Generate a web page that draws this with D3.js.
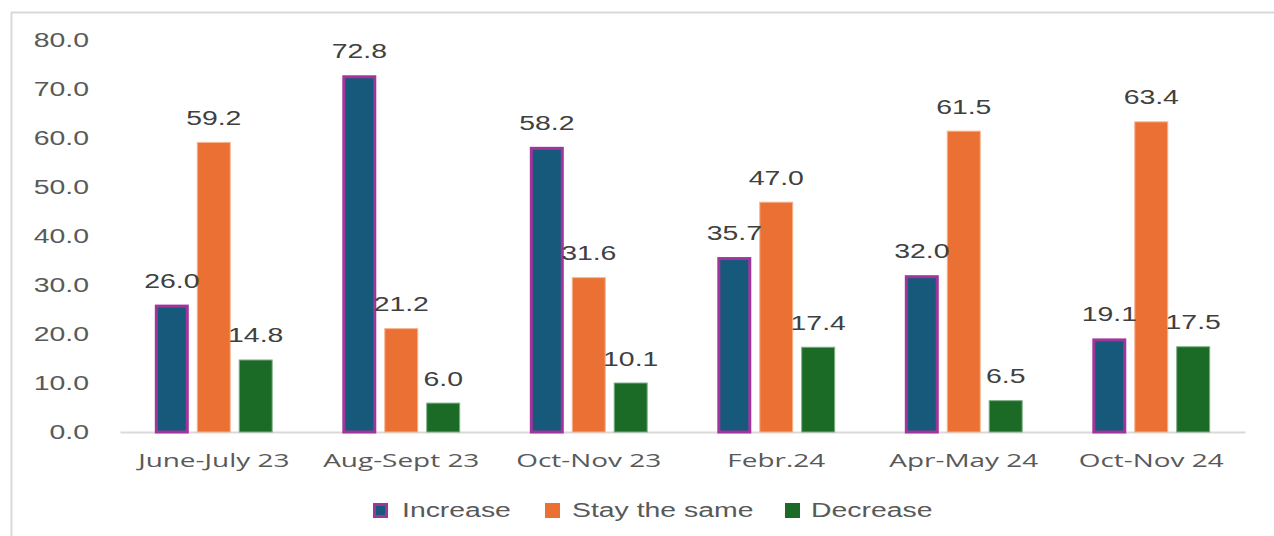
<!DOCTYPE html>
<html>
<head>
<meta charset="utf-8">
<script src="https://cdn.jsdelivr.net/npm/d3@7"></script>
<style>
  html, body { margin: 0; padding: 0; background: #ffffff; }
  svg { display: block; }
</style>
</head>
<body>
<svg id="chart" width="1274" height="536"></svg>
<script>
// Survey periods and the share of answers for each option (%)
const categories = ["June-July 23", "Aug-Sept 23", "Oct-Nov 23", "Febr.24", "Apr-May 24", "Oct-Nov 24"];
const seriesNames = ["Increase", "Stay the same", "Decrease"];
const increase = [26.0, 72.8, 58.2, 35.7, 32.0, 19.1];
const stayTheSame = [59.2, 21.2, 31.6, 47.0, 61.5, 63.4];
const decrease = [14.8, 6.0, 10.1, 17.4, 6.5, 17.5];
const yTicks = [0, 10, 20, 30, 40, 50, 60, 70, 80];

const seriesValues = [increase, stayTheSame, decrease];
const fills = ["#17597b", "#ea7133", "#1b6a25"];
const strokes = ["#a2359c", "#f6b58f", "#7fae86"];
const strokeW = [3, 1, 1];

const svg = d3.select("#chart");
const textColor = "#595959";
const numFont = "'Liberation Sans', Arial, sans-serif";
const catFont = "'Open Sans', 'Noto Sans', sans-serif";
// the type in this chart is set wide
const stretch = 1.42;

// Chart frame lines
svg.append("line").attr("x1", 11).attr("x2", 1274).attr("y1", 12.5).attr("y2", 12.5)
  .attr("stroke", "#d9d9d9").attr("stroke-width", 2);
svg.append("line").attr("x1", 11.5).attr("x2", 11.5).attr("y1", 12).attr("y2", 536)
  .attr("stroke", "#d9d9d9").attr("stroke-width", 2);

const x0 = d3.scaleBand().domain(categories).range([120, 1245]).paddingInner(0).paddingOuter(0);
const x1 = d3.scaleBand().domain(seriesNames).range([0, x0.bandwidth()])
  .paddingInner(0.19).paddingOuter(0.83);
const y = d3.scaleLinear().domain([0, 80]).range([432, 40]);

// Y axis labels
const yAxis = d3.axisLeft(y).tickValues(yTicks).tickFormat(d3.format(".1f")).tickSize(0).tickPadding(0);
const yg = svg.append("g").attr("transform", "translate(89,0)").call(yAxis);
yg.select(".domain").remove();
yg.selectAll("text")
  .attr("fill", textColor)
  .attr("transform", `scale(${stretch},1)`)
  .style("font-family", numFont).style("font-size", "20px");

// Baseline and category labels
const xAxis = d3.axisBottom(x0).tickSize(0).tickPadding(22);
const xg = svg.append("g").attr("transform", "translate(0,432)").call(xAxis);
xg.select(".domain").attr("stroke", "#d9d9d9").attr("stroke-width", 2);
xg.selectAll("text")
  .attr("fill", textColor)
  .attr("transform", `scale(1.47,1)`)
  .style("font-family", catFont).style("font-size", "19px");

// Bars
const groups = svg.append("g").selectAll("g")
  .data(categories).join("g")
  .attr("transform", d => `translate(${x0(d)},0)`);

seriesNames.forEach((name, si) => {
  groups.append("rect")
    .attr("x", x1(name) + strokeW[si] / 2)
    .attr("y", (d, ci) => y(seriesValues[si][ci]) + strokeW[si] / 2)
    .attr("width", x1.bandwidth() - strokeW[si])
    .attr("height", (d, ci) => y(0) - y(seriesValues[si][ci]) - strokeW[si] / 2)
    .attr("fill", fills[si])
    .attr("stroke", strokes[si])
    .attr("stroke-width", strokeW[si]);
});

// Value labels
seriesNames.forEach((name, si) => {
  groups.append("text")
    .attr("transform", (d, ci) =>
      `translate(${x1(name) + x1.bandwidth() / 2},${y(seriesValues[si][ci]) - 17}) scale(${stretch},1)`)
    .attr("text-anchor", "middle")
    .attr("fill", "#404040")
    .style("font-family", numFont)
    .style("font-size", "20px")
    .text((d, ci) => seriesValues[si][ci].toFixed(1));
});

// Legend
const legendItems = [
  { name: "Increase", x: 373, tx: 402 },
  { name: "Stay the same", x: 545, tx: 572 },
  { name: "Decrease", x: 785, tx: 811 }
];
const lg = svg.append("g");
legendItems.forEach((it, i) => {
  lg.append("rect")
    .attr("x", it.x + strokeW[i] / 2).attr("y", 503 + strokeW[i] / 2)
    .attr("width", 15 - strokeW[i]).attr("height", 15 - strokeW[i])
    .attr("fill", fills[i])
    .attr("stroke", i === 0 ? strokes[i] : fills[i])
    .attr("stroke-width", strokeW[i]);
  lg.append("text")
    .attr("transform", `translate(${it.tx},517) scale(${stretch},1)`)
    .attr("fill", textColor)
    .style("font-family", numFont)
    .style("font-size", "20px")
    .text(it.name);
});
</script>
</body>
</html>
